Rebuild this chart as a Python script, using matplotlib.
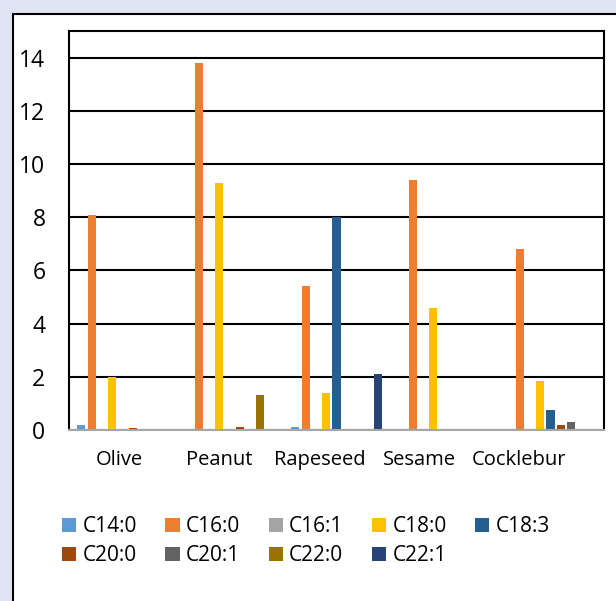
#===============================================================================
import matplotlib.pyplot as plt
import numpy as np
from matplotlib.patches import Rectangle

#===============================================================================
categories = ["Olive", "Peanut", "Rapeseed", "Sesame", "Cocklebur"]

series_names = ["C14:0", "C16:0", "C16:1", "C18:0", "C18:3",
                "C20:0", "C20:1", "C22:0", "C22:1"]

c14_0 = [0.2, 0.0, 0.1, 0.0, 0.0]
c16_0 = [8.1, 13.8, 5.4, 9.4, 6.8]
c16_1 = [0.0, 0.0, 0.0, 0.0, 0.05]
c18_0 = [2.0, 9.3, 1.4, 4.6, 1.85]
c18_3 = [0.0, 0.0, 8.0, 0.0, 0.75]
c20_0 = [0.07, 0.1, 0.0, 0.0, 0.2]
c20_1 = [0.0, 0.0, 0.0, 0.0, 0.3]
c22_0 = [0.0, 1.3, 0.0, 0.0, 0.0]
c22_1 = [0.0, 0.0, 2.1, 0.0, 0.0]

series_values = [c14_0, c16_0, c16_1, c18_0, c18_3, c20_0, c20_1, c22_0, c22_1]

y_ticks = [0, 2, 4, 6, 8, 10, 12, 14]

colors = ["#5B9BD5", "#ED7D31", "#A5A5A5", "#FFC000", "#255E91",
          "#9E480E", "#636363", "#997300", "#264478"]

#===============================================================================
plt.rcParams["font.family"] = ["Open Sans", "DejaVu Sans"]

W, H = 616, 601
fig = plt.figure(figsize=(W / 100, H / 100), dpi=100)
fig.patch.set_facecolor("#e0e3f1")

# white panel with a black border running off the right and bottom edges
panel = Rectangle((12.5 / W, -0.1), 1.2, 1.1 - 13.5 / H,
                  transform=fig.transFigure, facecolor="white",
                  edgecolor="black", linewidth=1.5, zorder=-1)
fig.patches.append(panel)

ax = fig.add_axes([69 / W, 1 - 430 / H, (604 - 69) / W, (430 - 31) / H])
ax.set_facecolor("white")

x = np.arange(len(categories))
pitch = 0.0963
width = 0.075
for j, (name, values) in enumerate(zip(series_names, series_values)):
    ax.bar(x + (j - 4) * pitch, values, width, color=colors[j], label=name,
           zorder=3)

ax.set_xlim(-0.5, len(categories) - 0.5)
ax.set_ylim(0, 15)

ax.set_yticks(y_ticks)
ax.set_yticklabels([str(t) for t in y_ticks], fontsize=16.5)
ax.yaxis.grid(True, color="black", linewidth=1.5)
ax.set_axisbelow(True)

# category names sit a little left of their bar groups, as in the original
label_pos = x * 0.935 - 0.03
ax.set_xticks(label_pos)
ax.set_xticklabels(categories, fontsize=14.5)
ax.tick_params(axis="both", length=0)
ax.tick_params(axis="y", pad=17)
ax.tick_params(axis="x", pad=14.5)

for side in ["top", "left", "right"]:
    ax.spines[side].set_color("black")
    ax.spines[side].set_linewidth(1.5)
ax.spines["bottom"].set_color("#a6a6a6")
ax.spines["bottom"].set_linewidth(1.5)
ax.spines["bottom"].set_zorder(4)

# legend laid out row by row, 5 per row
handles, labels = ax.get_legend_handles_labels()
order = [0, 5, 1, 6, 2, 7, 3, 8, 4]
fig.legend([handles[i] for i in order], [labels[i] for i in order],
           ncol=5, loc="upper left", bbox_to_anchor=(62 / W, 1 - 516 / H),
           frameon=False, fontsize=15, handlelength=0.68, handleheight=0.68,
           handletextpad=0.3, columnspacing=1.37, labelspacing=0.4,
           borderpad=0, borderaxespad=0)

fig.savefig("out.png", dpi=100, facecolor=fig.get_facecolor())
